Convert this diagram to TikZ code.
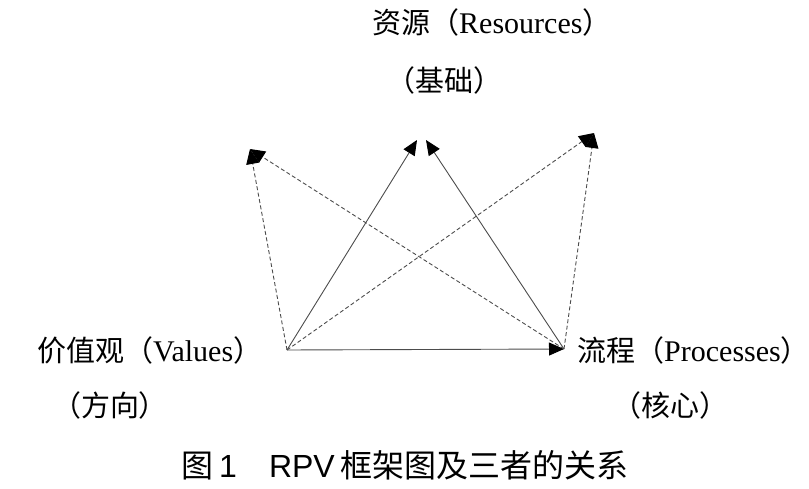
\documentclass[tikz,border=0pt]{standalone}
\usepackage{fontspec}
\setmainfont{Liberation Serif}
\newfontfamily\cjk{Noto Sans CJK SC}
\newfontfamily\capsans{Liberation Sans}
\newcommand{\latn}[1]{{\fontsize{30}{34}\selectfont #1}}
\newcommand{\rpar}{{\cjk ）}\kern-0.45em}
\usetikzlibrary{arrows.meta}
\tikzset{
  lbl/.style={inner sep=0pt, font=\fontsize{29}{34}\selectfont},
  captiontext/.style={inner sep=0pt, font=\fontsize{32}{38}\selectfont},
  tip/.style={-{Triangle[length=15pt,width=13pt,color=black]}},
  solidarr/.style={draw=black!70, line width=0.9pt, tip},
  dasharr/.style={draw=black!70, line width=0.9pt, dash pattern=on 4pt off 2.5pt, tip}
}
\begin{document}
\begin{tikzpicture}[x=1pt,y=-1pt]
\useasboundingbox (0,0) rectangle (809,489);
% anchor points
\coordinate (V) at (287,350);
\coordinate (P) at (564,349);
\coordinate (Rl) at (417,140);
\coordinate (Rr) at (426,140);
\coordinate (L) at (250,149);
\coordinate (Rt) at (594,133);
% labels
\node[lbl, anchor=west] (res) at (372,22) {{\cjk 资源（}\latn{Resources}\rpar};
\node[lbl] (resb) at (444,80) {{\cjk （基础）}};
\node[lbl, anchor=west] (val) at (37,350) {{\cjk 价值观（}\latn{Values}\rpar};
\node[lbl] (valb) at (110,405) {{\cjk （方向）}};
\node[lbl, anchor=west] (pro) at (577,350) {{\cjk 流程（}\latn{Processes}\rpar};
\node[lbl] (prob) at (670,405) {{\cjk （核心）}};
\node[captiontext] (caption) at (405,465) {{\cjk 图\,}{\capsans 1}{\cjk 　}{\capsans RPV}{\cjk \,框架图及三者的关系}};
% connectors
\draw[solidarr] (V) -- (P);
\draw[solidarr] (V) -- (Rl);
\draw[solidarr] (P) -- (Rr);
\draw[dasharr] (V) -- (L);
\draw[dasharr] (P) -- (L);
\draw[dasharr] (V) -- (Rt);
\draw[dasharr] (P) -- (Rt);
\end{tikzpicture}
\end{document}
